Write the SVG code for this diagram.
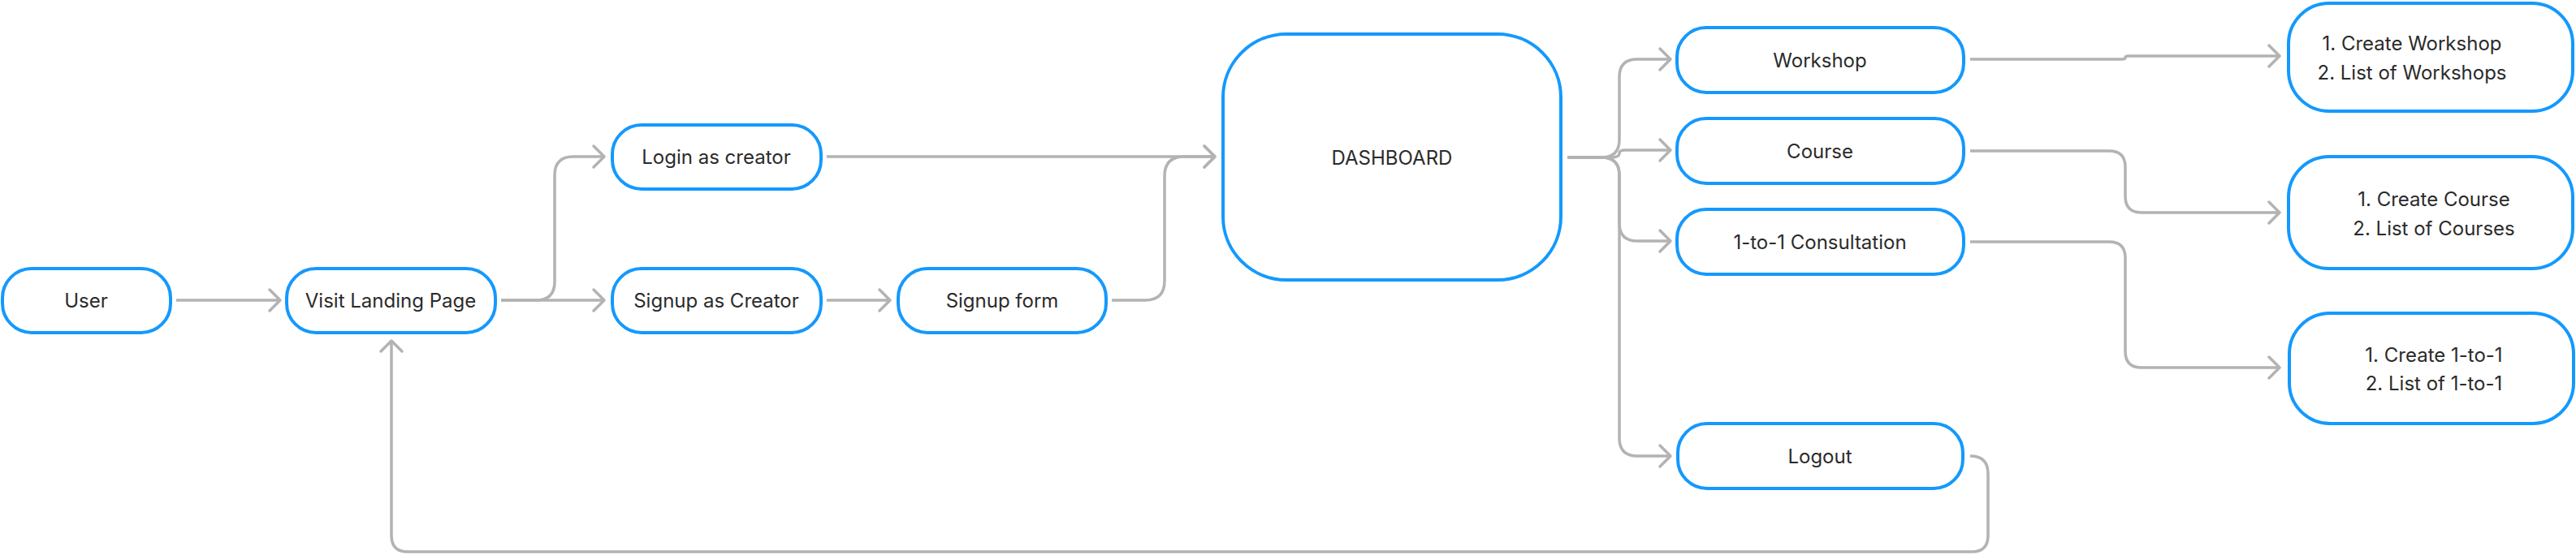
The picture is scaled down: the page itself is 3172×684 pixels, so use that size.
<svg xmlns="http://www.w3.org/2000/svg" width="3172" height="684" viewBox="0 0 3172 684">
<style>
.node rect{fill:#ffffff;stroke:#1499fd;stroke-width:4}
.node text{font-family:Inter,"Liberation Sans",sans-serif;font-size:24px;fill:#2b2b2b;text-anchor:middle}
.conn path{fill:none;stroke:#b3b3b3;stroke-width:3.5;stroke-linejoin:round}
</style>
<defs>
<marker id="ah" markerUnits="userSpaceOnUse" viewBox="-20 -20 40 40" markerWidth="40" markerHeight="40" refX="0" refY="0" orient="auto" overflow="visible">
<path d="M-13,-13 L0,0 L-13,13" fill="none" stroke="#b3b3b3" stroke-width="3.5" stroke-linecap="round" stroke-linejoin="round"/>
</marker>
</defs>
<rect width="3172" height="684" fill="#ffffff"/>
<g id="connectors" class="conn">
<path d="M217,370 H345" marker-end="url(#ah)"/>
<path d="M617,370 H660 Q683,370 683,347 V216 Q683,193 706,193 H744" marker-end="url(#ah)"/>
<path d="M617,370 H744" marker-end="url(#ah)"/>
<path d="M1018,370 H1096" marker-end="url(#ah)"/>
<path d="M1018,193 H1496" marker-end="url(#ah)"/>
<path d="M1369,370 H1410 Q1434,370 1434,346 V217 Q1434,193 1458,193 H1496" marker-end="url(#ah)"/>
<path d="M1930,194 H1972 Q1994,194 1994,172 V95 Q1994,73 2016,73 H2057" marker-end="url(#ah)"/>
<path d="M1930,194 H1984 Q1994,194 1994,189 Q1994,185 2001,185 H2057" marker-end="url(#ah)"/>
<path d="M1930,194 H1972 Q1994,194 1994,216 V275 Q1994,297 2016,297 H2057" marker-end="url(#ah)"/>
<path d="M1930,194 H1972 Q1994,194 1994,216 V540 Q1994,562 2016,562 H2057" marker-end="url(#ah)"/>
<path d="M2426,73 H2613 Q2617,73 2617,71 Q2617,69 2621,69 H2807" marker-end="url(#ah)"/>
<path d="M2426,186 H2597 Q2617,186 2617,206 V242 Q2617,262 2637,262 H2807" marker-end="url(#ah)"/>
<path d="M2426,298 H2597 Q2617,298 2617,318 V433 Q2617,453 2637,453 H2807" marker-end="url(#ah)"/>
<path d="M2426,562 Q2448,562 2448,584 V660 Q2448,680 2428,680 H502 Q482,680 482,660 V420" marker-end="url(#ah)"/>
</g>
<g id="user" class="node"><rect x="3" y="331" width="207" height="79" rx="36"/><text x="106" y="379">User</text></g>
<g id="visit" class="node"><rect x="353" y="331" width="257" height="79" rx="36"/><text x="481" y="379">Visit Landing Page</text></g>
<g id="login" class="node"><rect x="754" y="154" width="257" height="79" rx="36"/><text x="882" y="202">Login as creator</text></g>
<g id="signup-creator" class="node"><rect x="754" y="331" width="257" height="79" rx="36"/><text x="882" y="379">Signup as Creator</text></g>
<g id="signup-form" class="node"><rect x="1106" y="331" width="256" height="79" rx="36"/><text x="1234" y="379">Signup form</text></g>
<g id="dashboard" class="node"><rect x="1506" y="42" width="416" height="303" rx="78"/><text x="1714" y="203">DASHBOARD</text></g>
<g id="workshop" class="node"><rect x="2065" y="34" width="353" height="80" rx="36"/><text x="2241" y="83">Workshop</text></g>
<g id="course" class="node"><rect x="2065" y="146" width="353" height="80" rx="36"/><text x="2241" y="195">Course</text></g>
<g id="consultation" class="node"><rect x="2065" y="258" width="353" height="80" rx="36"/><text x="2241" y="307">1-to-1 Consultation</text></g>
<g id="logout" class="node"><rect x="2066" y="522" width="351" height="80" rx="36"/><text x="2241" y="571">Logout</text></g>
<g id="workshop-actions" class="node"><rect x="2818" y="4" width="350" height="133" rx="50"/><text x="2970" y="62">1. Create Workshop</text><text x="2970" y="98">2. List of Workshops</text></g>
<g id="course-actions" class="node"><rect x="2818" y="193" width="350" height="138" rx="50"/><text x="2997" y="254">1. Create Course</text><text x="2997" y="290">2. List of Courses</text></g>
<g id="consultation-actions" class="node"><rect x="2819" y="386" width="350" height="136" rx="50"/><text x="2997" y="446">1. Create 1-to-1</text><text x="2997" y="481">2. List of 1-to-1</text></g>
</svg>
